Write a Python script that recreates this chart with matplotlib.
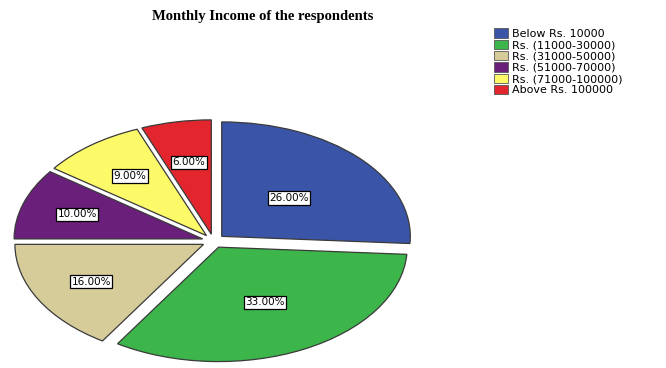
import numpy as np
import matplotlib.pyplot as plt
from matplotlib.patches import Patch

categories = ['Below Rs. 10000', 'Rs. (11000-30000)', 'Rs. (31000-50000)',
              'Rs. (51000-70000)', 'Rs. (71000-100000)', 'Above Rs. 100000']
shares = [26, 33, 16, 10, 9, 6]
colors = ['#3a55a8', '#3cb54a', '#d6cc9a', '#6a1f7a', '#fdfa6a', '#e3262d']
# how far out each percentage box sits (fraction of radius)
label_r = [0.55, 0.6, 0.74, 0.76, 0.72, 0.7]

fig = plt.figure(figsize=(6.66, 3.68), dpi=100)
ax = fig.add_axes([0.009, 0.003, 0.623, 0.684])

wedges, texts, autotexts = ax.pie(
    shares, colors=colors, startangle=90, counterclock=False,
    explode=[0.06] * len(shares), autopct='%.2f%%', pctdistance=0.58,
    wedgeprops=dict(edgecolor='#3a3a3a', linewidth=0.9),
    textprops=dict(fontsize=7.5, family='DejaVu Sans'))

for w, t, r in zip(wedges, autotexts, label_r):
    mid = np.deg2rad((w.theta1 + w.theta2) / 2)
    t.set_position((r * np.cos(mid), r * np.sin(mid)))
    t.set_bbox(dict(facecolor='white', edgecolor='black', boxstyle='square,pad=0.15', linewidth=0.9))

ax.set_aspect('auto')
ax.set_xlim(-1.1, 1.1)
ax.set_ylim(-1.1, 1.1)
ax.axis('off')

fig.text(0.395, 0.955, 'Monthly Income of the respondents', ha='center', va='center',
         fontsize=10.5, fontweight='bold', family='Liberation Serif')

handles = [Patch(facecolor=c, edgecolor='#555555', linewidth=0.6) for c in colors]
fig.legend(handles, categories, loc='upper left', bbox_to_anchor=(0.735, 0.935),
           frameon=False, handlelength=1.3, handleheight=0.9,
           handletextpad=0.3, labelspacing=0.08, borderaxespad=0,
           prop=dict(family='DejaVu Sans', size=8))

fig.savefig('out.png', dpi=100)
